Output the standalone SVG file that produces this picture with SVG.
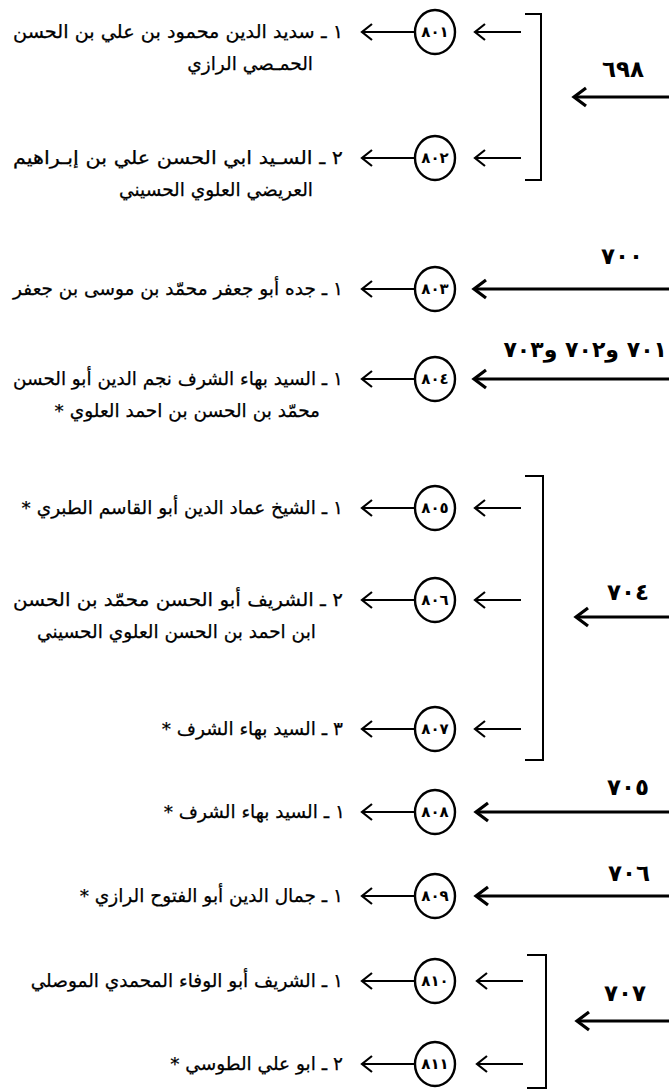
<svg xmlns="http://www.w3.org/2000/svg" width="669" height="1091" viewBox="0 0 669 1091">
<style>
.bg{fill:#ffffff}
.t{font-family:"DejaVu Sans",sans-serif;font-size:18.5px;fill:#000;stroke:#000;stroke-width:0.25;direction:rtl;unicode-bidi:embed;text-anchor:start}
.d{font-family:"DejaVu Sans",sans-serif;font-size:15px;fill:#000;text-anchor:middle;font-weight:bold}
.lb{font-family:"DejaVu Sans",sans-serif;font-size:23px;font-weight:bold;fill:#000;direction:rtl;unicode-bidi:embed;text-anchor:middle}
.lbr{font-family:"DejaVu Sans",sans-serif;font-size:22px;font-weight:bold;fill:#000;direction:rtl;unicode-bidi:embed;text-anchor:start}
.o{fill:#fff;stroke:#000;stroke-width:2.4}
.big{fill:none;stroke:#000;stroke-width:3;marker-end:url(#hb)}
.sm{fill:none;stroke:#000;stroke-width:2;marker-end:url(#hs)}
.br{fill:none;stroke:#000;stroke-width:2}
</style>
<defs>
<marker id="hb" markerUnits="userSpaceOnUse" orient="auto" refX="0" refY="0" markerWidth="30" markerHeight="30" overflow="visible"><path d="M-12,-9 L0,0 L-12,9" fill="none" stroke="#000" stroke-width="3.2"/></marker>
<marker id="hs" markerUnits="userSpaceOnUse" orient="auto" refX="0" refY="0" markerWidth="30" markerHeight="30" overflow="visible"><path d="M-10,-8 L0,0 L-10,8" fill="none" stroke="#000" stroke-width="2.2"/></marker>
</defs>
<rect class="bg" x="0" y="0" width="669" height="1091"/>
<g id="connectors">
<path class="br" d="M525,14 H541 V180 H525"/>
<path class="br" d="M525,476 H543 V760 H525"/>
<path class="br" d="M527,955 H546 V1088 H527"/>
<path class="big" d="M669,97 H574"/>
<path class="big" d="M669,289 H474"/>
<path class="big" d="M669,379 H474"/>
<path class="big" d="M669,617 H576"/>
<path class="big" d="M669,812 H476"/>
<path class="big" d="M669,896 H476"/>
<path class="big" d="M669,1021 H577"/>
<path class="sm" d="M521,32 H475"/>
<path class="sm" d="M521,158 H475"/>
<path class="sm" d="M521,508 H475"/>
<path class="sm" d="M521,600 H475"/>
<path class="sm" d="M521,729 H475"/>
<path class="sm" d="M523,981 H477"/>
<path class="sm" d="M523,1064 H477"/>
<path class="sm" d="M415,32 H362"/>
<path class="sm" d="M415,158 H362"/>
<path class="sm" d="M415,289 H362"/>
<path class="sm" d="M415,379 H362"/>
<path class="sm" d="M415,508 H362"/>
<path class="sm" d="M415,600 H362"/>
<path class="sm" d="M415,729 H362"/>
<path class="sm" d="M415,812 H362"/>
<path class="sm" d="M415,896 H362"/>
<path class="sm" d="M415,981 H362"/>
<path class="sm" d="M415,1064 H362"/>
<text class="lb" x="623" y="77">٦٩٨</text>
<text class="lb" x="622" y="264">٧٠٠</text>
<text class="lbr" x="667" y="357">٧٠١ و٧٠٢ و٧٠٣</text>
<text class="lb" x="628" y="600">٧٠٤</text>
<text class="lb" x="628" y="795">٧٠٥</text>
<text class="lb" x="629" y="881">٧٠٦</text>
<text class="lb" x="625" y="1001">٧٠٧</text>
</g>
<g id="n801"><ellipse class="o" cx="435" cy="32" rx="20" ry="22"/><text class="d" x="435" y="37">٨٠١</text>
<text class="t" x="343" y="38" textLength="330" lengthAdjust="spacingAndGlyphs">١ ـ سديد الدين محمود بن علي بن الحسن</text><text class="t" x="313" y="70">الحمـصي الرازي</text></g>
<g id="n802"><ellipse class="o" cx="435" cy="158" rx="20" ry="22"/><text class="d" x="435" y="163">٨٠٢</text>
<text class="t" x="343" y="164" textLength="330" lengthAdjust="spacingAndGlyphs">٢ ـ السـيد ابي الحسن علي بن إبـراهيم</text><text class="t" x="313" y="196">العريضي العلوي الحسيني</text></g>
<g id="n803"><ellipse class="o" cx="435" cy="289" rx="20" ry="22"/><text class="d" x="435" y="294">٨٠٣</text>
<text class="t" x="343" y="295">١ ـ جده أبو جعفر محمّد بن موسى بن جعفر</text></g>
<g id="n804"><ellipse class="o" cx="435" cy="379" rx="20" ry="22"/><text class="d" x="435" y="384">٨٠٤</text>
<text class="t" x="343" y="385" textLength="330" lengthAdjust="spacingAndGlyphs">١ ـ السيد بهاء الشرف نجم الدين أبو الحسن</text><text class="t" x="320" y="417">محمّد بن الحسن بن احمد العلوي *</text></g>
<g id="n805"><ellipse class="o" cx="435" cy="508" rx="20" ry="22"/><text class="d" x="435" y="513">٨٠٥</text>
<text class="t" x="343" y="514">١ ـ الشيخ عماد الدين أبو القاسم الطبري *</text></g>
<g id="n806"><ellipse class="o" cx="435" cy="600" rx="20" ry="22"/><text class="d" x="435" y="605">٨٠٦</text>
<text class="t" x="343" y="606" textLength="330" lengthAdjust="spacingAndGlyphs">٢ ـ الشريف أبو الحسن محمّد بن الحسن</text><text class="t" x="316" y="638">ابن احمد بن الحسن  العلوي الحسيني</text></g>
<g id="n807"><ellipse class="o" cx="435" cy="729" rx="20" ry="22"/><text class="d" x="435" y="734">٨٠٧</text>
<text class="t" x="343" y="735">٣ ـ السيد بهاء الشرف *</text></g>
<g id="n808"><ellipse class="o" cx="435" cy="812" rx="20" ry="22"/><text class="d" x="435" y="817">٨٠٨</text>
<text class="t" x="345" y="818">١ ـ السيد بهاء الشرف *</text></g>
<g id="n809"><ellipse class="o" cx="435" cy="896" rx="20" ry="22"/><text class="d" x="435" y="901">٨٠٩</text>
<text class="t" x="343" y="902">١ ـ جمال الدين أبو الفتوح الرازي *</text></g>
<g id="n810"><ellipse class="o" cx="435" cy="981" rx="20" ry="22"/><text class="d" x="435" y="986">٨١٠</text>
<text class="t" x="343" y="987">١ ـ الشريف أبو الوفاء المحمدي الموصلي</text></g>
<g id="n811"><ellipse class="o" cx="435" cy="1064" rx="20" ry="22"/><text class="d" x="435" y="1069">٨١١</text>
<text class="t" x="343" y="1070">٢ ـ ابو علي الطوسي *</text></g>
</svg>
